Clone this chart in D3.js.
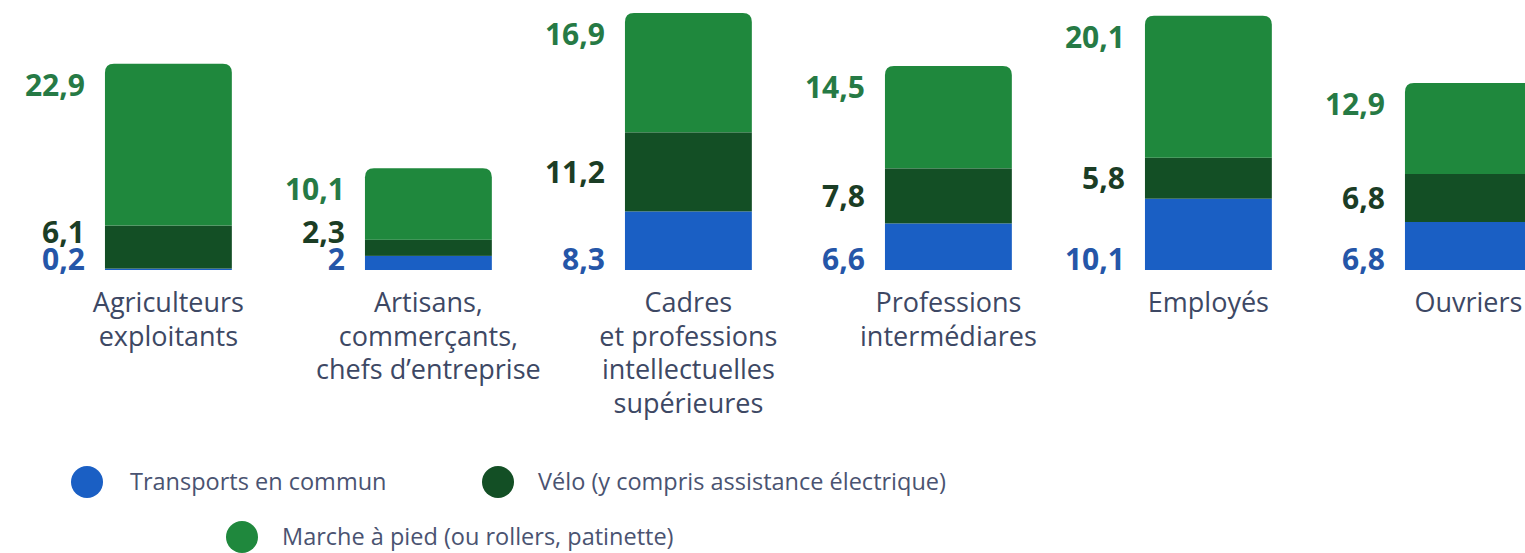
<!DOCTYPE html>
<html>
<head>
<meta charset="utf-8">
<script src="https://cdn.jsdelivr.net/npm/d3@7"></script>
<style>
  html, body { margin: 0; padding: 0; background: #fff; overflow: hidden; }
  svg { display: block; font-family: "Open Sans", sans-serif; }
</style>
</head>
<body>
<svg id="chart"></svg>
<script>
// categories (one line per label row)
const categories = [
  ["Agriculteurs", "exploitants"],
  ["Artisans,", "commerçants,", "chefs d’entreprise"],
  ["Cadres", "et professions", "intellectuelles", "supérieures"],
  ["Professions", "intermédiares"],
  ["Employés"],
  ["Ouvriers"]
];

const seriesNames = [
  "Transports en commun",
  "Vélo (y compris assistance électrique)",
  "Marche à pied (ou rollers, patinette)"
];

// valeurs en %
const transports = [0.2, 2, 8.3, 6.6, 10.1, 6.8];
const velo = [6.1, 2.3, 11.2, 7.8, 5.8, 6.8];
const marche = [22.9, 10.1, 16.9, 14.5, 20.1, 12.9];

const barColors = ["#1a5fc4", "#134f25", "#1f883d"];
const labelColors = ["#2556a8", "#1b3d25", "#267a45"];

const width = 1525;
const height = 553;

const svg = d3.select("#chart")
  .attr("width", width)
  .attr("height", height);

const rows = categories.map((c, i) => ({
  key: c.join(" "),
  lines: c,
  values: [transports[i], velo[i], marche[i]]
}));

const x = d3.scaleBand()
  .domain(rows.map(d => d.key))
  .range([38.4, 38.4 + 260 * rows.length])
  .paddingInner(0.512)
  .paddingOuter(0.256);

const maxTotal = d3.max(rows, d => d3.sum(d.values));
const y = d3.scaleLinear()
  .domain([0, maxTotal])
  .range([270, 13]);

const stack = d3.stack().keys([0, 1, 2]).value((d, k) => d.values[k]);
const series = stack(rows);

const g = svg.append("g");

// segments du bas (rectangles simples)
series.slice(0, 2).forEach((s, k) => {
  g.append("g")
    .selectAll("rect")
    .data(s)
    .enter().append("rect")
    .attr("x", d => x(d.data.key))
    .attr("width", x.bandwidth())
    .attr("y", d => y(d[1]))
    .attr("height", d => y(d[0]) - y(d[1]))
    .attr("fill", barColors[k]);
});

// segment du haut avec coins arrondis
const r = 9;
g.append("g")
  .selectAll("path")
  .data(series[2])
  .enter().append("path")
  .attr("fill", barColors[2])
  .attr("d", d => {
    const x0 = x(d.data.key), x1 = x0 + x.bandwidth();
    const y0 = y(d[0]), y1 = y(d[1]);
    return `M${x0},${y0}V${y1 + r}Q${x0},${y1} ${x0 + r},${y1}H${x1 - r}Q${x1},${y1} ${x1},${y1 + r}V${y0}Z`;
  });

// étiquettes de valeurs
const fmt = v => String(v).replace(".", ",");
const labels = g.append("g")
  .attr("font-weight", 700)
  .attr("font-size", 30)
  .attr("text-anchor", "end");

rows.forEach((row, i) => {
  const lx = x(row.key) - 20;
  const bBlue = y(0);
  const midDark = (y(series[1][i][0]) + y(series[1][i][1])) / 2;
  const bDark = Math.min(midDark + 11, bBlue - 27);
  const bGreen = Math.min(y(series[2][i][1]) + 32, bDark - 27);
  [bBlue, bDark, bGreen].forEach((by, k) => {
    labels.append("text")
      .attr("x", lx)
      .attr("y", by)
      .attr("fill", labelColors[k])
      .text(fmt(row.values[k]));
  });
});

// libellés des catégories
const cat = g.append("g")
  .attr("font-size", 27)
  .attr("fill", "#3d4864")
  .attr("text-anchor", "middle");

cat.selectAll("text")
  .data(rows)
  .enter().append("text")
  .attr("x", d => x(d.key) + x.bandwidth() / 2)
  .attr("y", 312)
  .each(function(d) {
    d3.select(this).selectAll("tspan")
      .data(d.lines)
      .enter().append("tspan")
      .attr("x", x(d.key) + x.bandwidth() / 2)
      .attr("dy", (l, j) => j === 0 ? 0 : 33.5)
      .text(l => l);
  });

// légende
const legendPos = [[87, 482], [498, 482], [242, 537]];
const legend = svg.append("g")
  .selectAll("g")
  .data(seriesNames)
  .enter().append("g")
  .attr("transform", (d, i) => `translate(${legendPos[i][0]},${legendPos[i][1]})`);

legend.append("circle")
  .attr("r", 16)
  .attr("fill", (d, i) => barColors[i]);

legend.append("text")
  .attr("x", (d, i) => i === 0 ? 43 : 40)
  .attr("dy", "0.35em")
  .attr("font-size", 23.5)
  .attr("fill", "#4a5371")
  .text(d => d);
</script>
</body>
</html>
